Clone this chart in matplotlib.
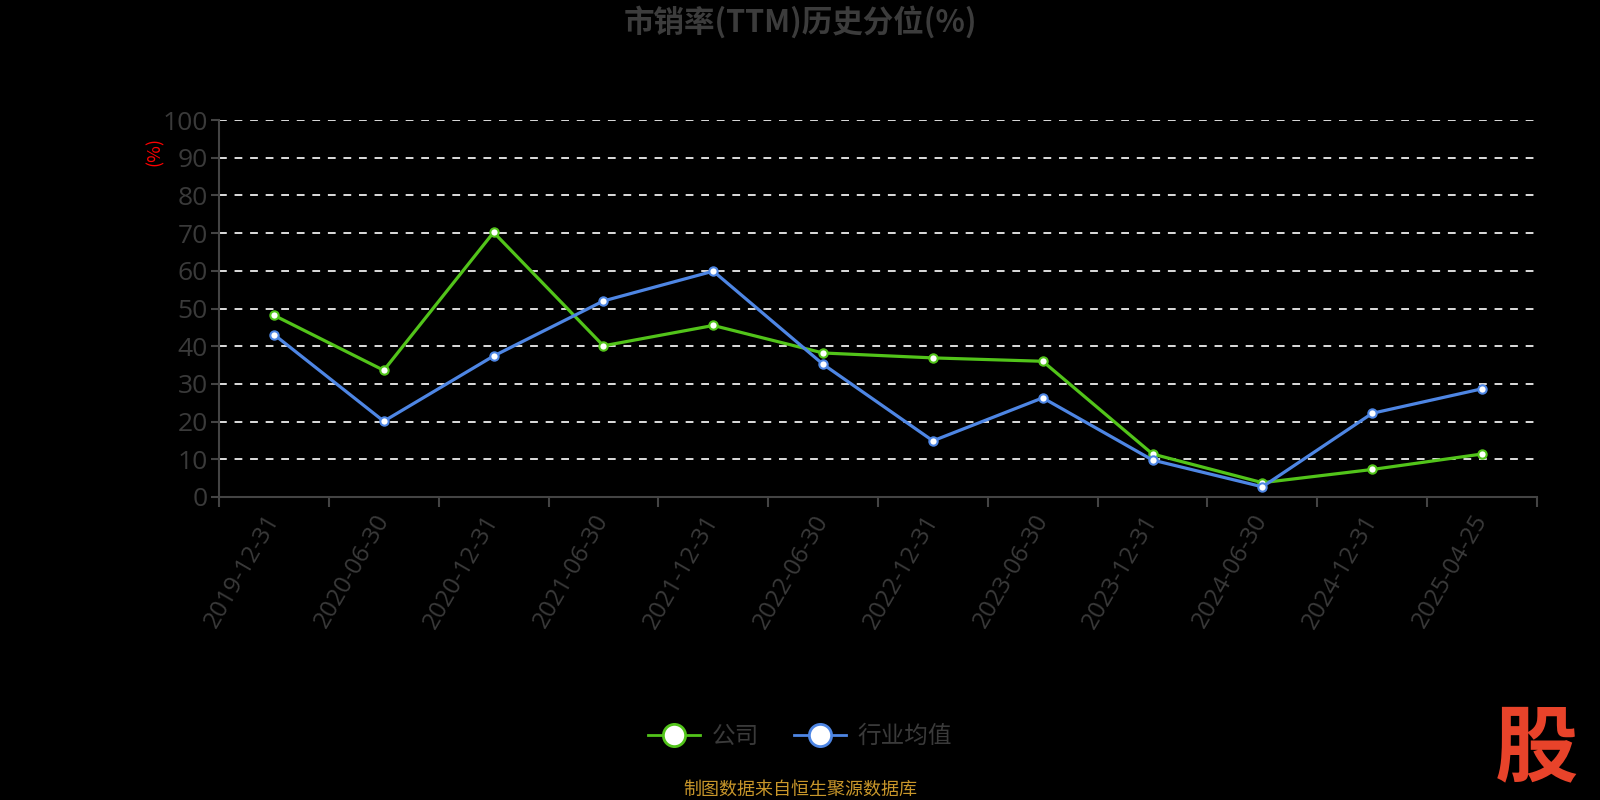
import matplotlib.pyplot as plt
from matplotlib.lines import Line2D

plt.rcParams['font.family'] = ['Noto Sans CJK SC', 'DejaVu Sans']

dates = ["2019-12-31", "2020-06-30", "2020-12-31", "2021-06-30", "2021-12-31", "2022-06-30",
         "2022-12-31", "2023-06-30", "2023-12-31", "2024-06-30", "2024-12-31", "2025-04-25"]
company = [48.2, 33.6, 70.2, 40.1, 45.5, 38.2, 36.9, 36.0, 11.4, 3.8, 7.3, 11.4]
industry = [43.1, 20.1, 37.4, 52.0, 59.9, 35.2, 14.9, 26.3, 9.8, 2.7, 22.2, 28.7]

green = '#52c41a'
blue = '#4e86e4'
gray = '#3a3a3a'
num_font = ['Open Sans', 'Noto Sans CJK SC']

fig = plt.figure(figsize=(16, 8), dpi=100, facecolor='black')
ax = fig.add_axes([0.1369, 0.37875, 0.8237, 0.47125])
ax.set_facecolor('black')

x = range(len(dates))
ax.plot(x, company, color=green, lw=2.3, marker='o', ms=6,
        mfc='white', mec=green, mew=1.5, zorder=3)
ax.plot(x, industry, color=blue, lw=2.3, marker='o', ms=6,
        mfc='white', mec=blue, mew=1.5, zorder=3)

ax.set_xlim(-0.5, len(dates) - 0.5)
ax.set_ylim(0, 100)
ax.set_yticks(range(0, 101, 10))
ax.set_yticklabels([str(v) for v in range(0, 101, 10)], family=num_font, fontsize=19)
ax.tick_params(axis='y', colors='#444444', labelcolor=gray, length=6, width=1.5, pad=2)
ax.set_xticks([i - 0.5 for i in range(len(dates) + 1)], minor=False)
ax.set_xticklabels([])
ax.set_xticks(list(x), minor=True)
ax.set_xticklabels(dates, minor=True, rotation=60, ha='right', va='center',
                   rotation_mode='anchor', color=gray, fontsize=17.5, family=num_font)
ax.tick_params(axis='x', which='major', colors='#444444', length=7, width=1.5)
ax.tick_params(axis='x', which='minor', length=0, pad=14)

for v in range(10, 101, 10):
    ax.axhline(v, color='#dddddd', lw=1.4, ls=(0, (4, 4)), zorder=1)

for s in ['top', 'right']:
    ax.spines[s].set_visible(False)
ax.spines['left'].set_color('#444444')
ax.spines['bottom'].set_color('#444444')
ax.spines['left'].set_linewidth(1.5)
ax.spines['bottom'].set_linewidth(1.5)

fig.text(0.5, 0.972, "市销率(TTM)历史分位(%)", ha='center', va='center',
         fontsize=22, fontweight='bold', color='#3c3c3c')
fig.text(0.097, 0.81, "(%)", ha='center', va='center', rotation=90,
         fontsize=13, color='red')

handles = [Line2D([], [], color=green, lw=2, marker='o', ms=16, mfc='white', mec=green, mew=2),
           Line2D([], [], color=blue, lw=2, marker='o', ms=16, mfc='white', mec=blue, mew=2)]
leg = fig.legend(handles, ["公司", "行业均值"], loc='center', bbox_to_anchor=(0.5, 0.079),
                 ncol=2, frameon=False, fontsize=17, labelcolor=gray,
                 handlelength=2.2, columnspacing=1.5, handletextpad=0.5)

fig.text(0.5, 0.013, "制图数据来自恒生聚源数据库", ha='center', va='center',
         fontsize=13, color='#c8962a')
fig.text(0.96, 0.063, "股", ha='center', va='center', fontsize=60,
         fontweight='bold', color='#e8432a', style='italic')

fig.savefig('out.png', dpi=100, facecolor='black')
